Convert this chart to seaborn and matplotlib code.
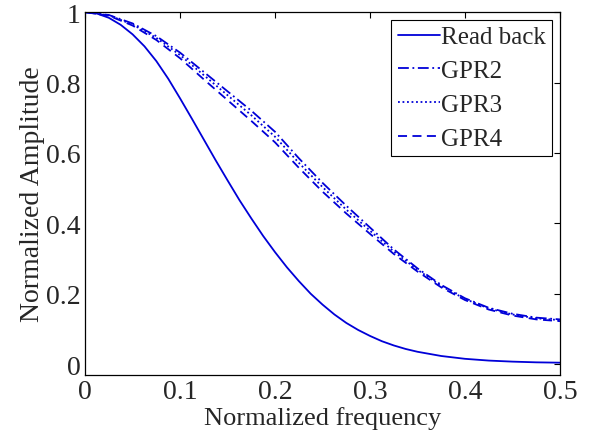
import numpy as np
import pandas as pd
import matplotlib
matplotlib.use('Agg')
import matplotlib.pyplot as plt
import seaborn as sns

# read back curve (finer sampling, it bends more)
freq_rb = [0.0, 0.0125, 0.025, 0.0375, 0.05, 0.0625, 0.075, 0.0875, 0.1, 0.1125,
           0.125, 0.1375, 0.15, 0.1625, 0.175, 0.1875, 0.2, 0.2125, 0.225, 0.2375,
           0.25, 0.2625, 0.275, 0.2875, 0.3, 0.3125, 0.325, 0.3375, 0.35, 0.375,
           0.4, 0.425, 0.45, 0.475, 0.5]
read_back = [1.0, 0.996, 0.984, 0.964, 0.937, 0.903, 0.861, 0.811, 0.755, 0.697,
             0.638, 0.579, 0.522, 0.466, 0.414, 0.364, 0.318, 0.275, 0.236, 0.200,
             0.169, 0.141, 0.117, 0.097, 0.080, 0.065, 0.053, 0.043, 0.035, 0.023,
             0.015, 0.010, 0.007, 0.005, 0.004]

freq = [0.0, 0.025, 0.05, 0.075, 0.1, 0.125, 0.15, 0.175, 0.2, 0.225, 0.25,
        0.275, 0.3, 0.325, 0.35, 0.375, 0.4, 0.425, 0.45, 0.475, 0.5]
gpr2 = [1.0, 0.992, 0.968, 0.932, 0.885, 0.830, 0.775, 0.720, 0.660, 0.585, 0.515,
        0.450, 0.388, 0.326, 0.272, 0.225, 0.187, 0.160, 0.143, 0.132, 0.127]
gpr3 = [1.0, 0.991, 0.965, 0.927, 0.878, 0.821, 0.764, 0.707, 0.646, 0.572, 0.503,
        0.439, 0.379, 0.320, 0.268, 0.222, 0.185, 0.158, 0.141, 0.130, 0.125]
gpr4 = [1.0, 0.990, 0.962, 0.921, 0.869, 0.809, 0.750, 0.691, 0.630, 0.558, 0.490,
        0.428, 0.370, 0.313, 0.263, 0.218, 0.182, 0.155, 0.138, 0.127, 0.122]

series_names = ['Read back', 'GPR2', 'GPR3', 'GPR4']
line_styles = ['-', (0, (6, 2, 1, 2)), (0, (1, 1.5)), (0, (5, 3))]

df = pd.concat([
    pd.DataFrame({'freq': freq_rb, 'amp': read_back, 'series': 'Read back'}),
    pd.DataFrame({'freq': freq, 'amp': gpr2, 'series': 'GPR2'}),
    pd.DataFrame({'freq': freq, 'amp': gpr3, 'series': 'GPR3'}),
    pd.DataFrame({'freq': freq, 'amp': gpr4, 'series': 'GPR4'}),
], ignore_index=True)

sns.set_style('white')
plt.rcParams['font.family'] = ['Liberation Serif', 'DejaVu Serif']

fig = plt.figure(figsize=(5.91, 4.39), dpi=100)
ax = fig.add_axes([0.144, 0.1435, 0.8035, 0.8265])

blue = '#0000d8'
for name, ls in zip(series_names, line_styles):
    sns.lineplot(data=df[df['series'] == name], x='freq', y='amp', ax=ax,
                 color=blue, linestyle=ls, linewidth=1.3, label=name)

ax.set_xlim(0, 0.5)
ax.set_ylim(-0.031, 1.0)
ax.set_xticks([0, 0.1, 0.2, 0.3, 0.4, 0.5])
ax.set_xticklabels(['0', '0.1', '0.2', '0.3', '0.4', '0.5'])
ax.set_yticks([0, 0.2, 0.4, 0.6, 0.8, 1.0])
ax.set_yticklabels(['0', '0.2', '0.4', '0.6', '0.8', '1'])
ax.tick_params(direction='in', length=4, width=0.8, top=True, right=True,
               labelsize=20, color='black', pad=3)
for sp in ax.spines.values():
    sp.set_color('black')
    sp.set_linewidth(0.9)

ax.set_xlabel('Normalized frequency', fontsize=19, labelpad=1)
ax.set_ylabel('Normalized Amplitude', fontsize=20, labelpad=1)

leg = ax.legend(loc='upper right', fontsize=18, frameon=True, fancybox=False,
                edgecolor='black', framealpha=1, handlelength=1.7,
                handletextpad=0.05, borderpad=0.25, labelspacing=0.45,
                borderaxespad=0.3)
leg.get_frame().set_linewidth(0.8)

fig.savefig('out.png', dpi=100)
